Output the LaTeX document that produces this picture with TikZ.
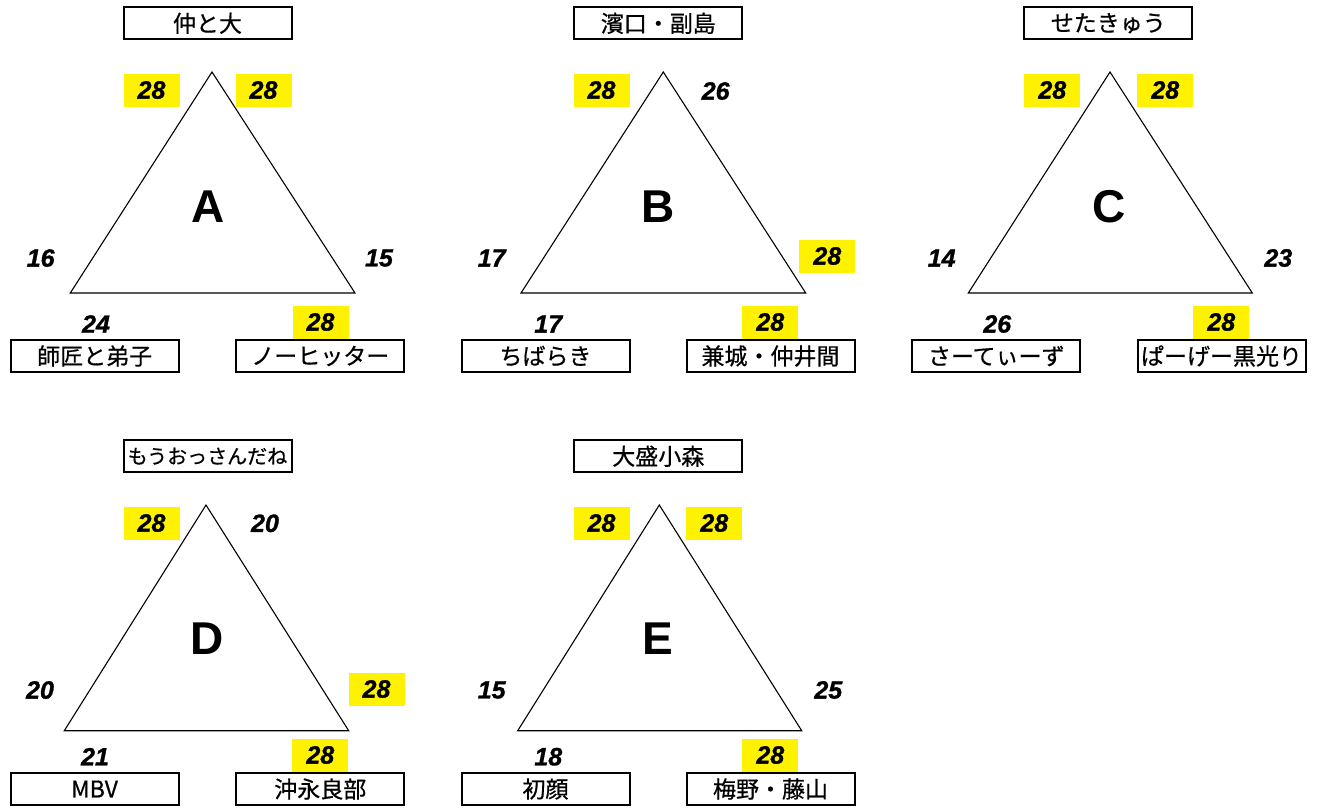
\documentclass[tikz,border=0pt]{standalone}
\usepackage{fontspec}
\setmainfont{Liberation Sans}
\newfontfamily\jpfont[FakeBold=0.6]{Noto Sans CJK JP}
\newfontfamily\numfont[FakeBold=1.2]{Liberation Sans Bold Italic}
\usepackage{tikz}
\usetikzlibrary{positioning}
\usetikzlibrary{calc}
\tikzstyle{namebox}=[draw=black,line width=2pt,minimum width=168pt,minimum height=32pt,inner sep=0pt,font=\jpfont\fontsize{23}{23}\selectfont]
\tikzstyle{score}=[inner sep=0pt,font=\numfont\fontsize{25}{25}\selectfont]
\tikzstyle{hiscore}=[score,fill=yellow,minimum width=56pt,minimum height=33pt]
\tikzstyle{triedge}=[draw,line width=1.1pt]
\tikzstyle{unitletter}=[font=\bfseries\fontsize{46}{46}\selectfont]

\begin{document}
\begin{tikzpicture}[x=1pt,y=-1pt]
    \useasboundingbox (0,0) rectangle (1318,807);

    \foreach \pos/\name/\label in {{(151.5,90)/tlA/28}, {(263.5,90)/trA/28}, {(320.5,322)/brA/28}, {(601.5,90)/tlB/28}, {(827.3,256)/rB/28}, {(770.3,322)/brB/28}, {(1052.3,90)/tlC/28}, {(1165.3,90)/trC/28}, {(1221.3,322)/brC/28}, {(151.5,523)/tlD/28}, {(376.5,689)/rD/28}, {(320.3,755)/brD/28}, {(601.5,523)/tlE/28}, {(714.3,523)/trE/28}, {(770.3,755)/brE/28}}
        \node[hiscore] (\name) at \pos {\label};

    \foreach \pos/\name/\label in {{(40.7,258)/lA/16}, {(379,258)/rA/15}, {(96,324)/bA/24}, {(715.7,91)/trB/26}, {(491.7,258)/lB/17}, {(548.3,324)/bB/17}, {(941.7,258)/lC/14}, {(1278.3,258)/rC/23}, {(997.3,324)/bC/26}, {(265,523.3)/trD/20}, {(40,690)/lD/20}, {(95,756.7)/bD/21}, {(491.7,690)/lE/15}, {(828.3,690)/rE/25}, {(548.3,756.7)/bE/18}}
        \node[score] (\name) at \pos {\label};

    \foreach \g/\tx/\ty/\lx/\rx/\by in {A/212/72/70.3/355/293, B/663.3/72/521/805.7/293, C/1110/72/968.3/1252.3/293, D/206/505/64.3/348.7/730.7, E/659.3/505/517.7/801.7/730.7}
    {
        \coordinate (top\g) at (\tx,\ty);
        \coordinate (left\g) at (\lx,\by);
        \coordinate (right\g) at (\rx,\by);
        \path[triedge] (top\g) -- (left\g) -- (right\g) -- cycle;
    }

    \foreach \pos/\name/\label in {{(208,207)/unitA/A}, {(658,207)/unitB/B}, {(1109,207)/unitC/C}, {(207,639)/unitD/D}, {(658,639)/unitE/E}}
        \node[unitletter] (\name) at \pos {\label};

    \foreach \pos/\name/\label in {{(207.5,23.3)/titleA/仲と大}, {(658.3,23.3)/titleB/濱口・副島}, {(1108.3,23.3)/titleC/せたきゅう}, {(658.3,456.2)/titleE/大盛小森}}
        \node[namebox] (\name) at \pos {\label};
    \node[namebox,font=\jpfont\fontsize{20}{20}\selectfont] (titleD) at (207.5,456.2) {もうおっさんだね};

    \foreach \pos/\name/\label in {{(94.7,356)/leftboxA/師匠と弟子}, {(320.3,356)/rightboxA/ノーヒッター}, {(545.5,356)/leftboxB/ちばらき}, {(770.5,356)/rightboxB/兼城・仲井間}, {(996.3,356)/leftboxC/さーてぃーず}, {(1221.5,356)/rightboxC/ぱーげー黒光り}, {(94.5,789)/leftboxD/MBV}, {(320.3,789)/rightboxD/沖永良部}, {(545.5,789)/leftboxE/初顔}, {(770.5,789)/rightboxE/梅野・藤山}}
        \node[namebox] (\name) at \pos {\label};
    \end{tikzpicture}
\end{document}
